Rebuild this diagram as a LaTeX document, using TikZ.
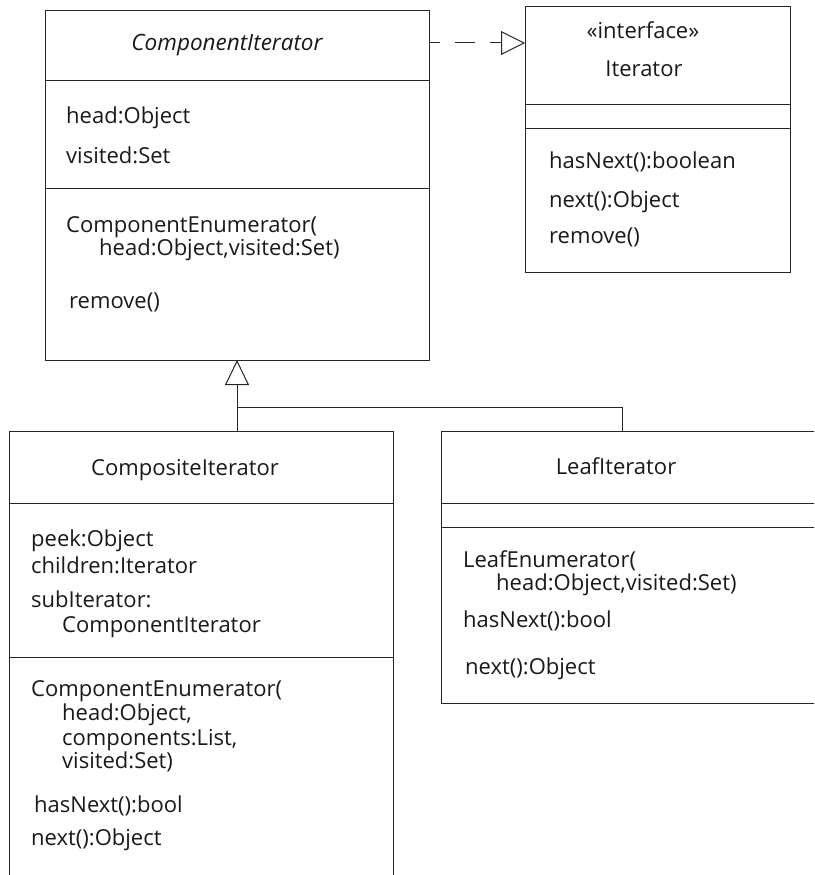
\documentclass[tikz,border=0pt]{standalone}
\usepackage{fontspec}
\setmainfont{Open Sans}
\usetikzlibrary{arrows.meta,calc}

\begin{document}
\begin{tikzpicture}[x=1pt, y=-1pt,
  umlbox/.style={draw=black!85, line width=1pt, inner sep=0pt, outer sep=0pt},
  sep/.style={draw=black!85, line width=1pt},
  cname/.style={anchor=base, inner sep=0pt, text=black!90, font=\fontsize{22}{25}\selectfont},
  member/.style={anchor=base west, inner sep=0pt, text=black!90, font=\fontsize{22}{25}\selectfont},
  realize/.style={draw=black!85, line width=1pt, dash pattern=on 20pt off 15pt, dash phase=9pt,
    -{Triangle[open, length=24pt, width=24pt]}},
  inherit/.style={draw=black!85, line width=1pt, -{Triangle[open, length=25pt, width=24pt]}},
  link/.style={draw=black!85, line width=1pt}
]
  \useasboundingbox (0,0) rectangle (814,875);
  \clip (0,0) rectangle (814,875);

  % boxes
  \node[umlbox, minimum width=384pt, minimum height=349pt] (compit) at (237,185.5) {};
  \node[umlbox, minimum width=265pt, minimum height=265pt] (iter) at (657.5,139.5) {};
  \node[umlbox, minimum width=384pt, minimum height=454pt] (compos) at (201,658) {};
  \node[umlbox, minimum width=393pt, minimum height=272pt] (leaf) at (637.5,567) {};

  % compartments
  \draw[sep] (compit.west |- 0,80) -- (compit.east |- 0,80);
  \draw[sep] (compit.west |- 0,188) -- (compit.east |- 0,188);
  \draw[sep] (iter.west |- 0,104) -- (iter.east |- 0,104);
  \draw[sep] (iter.west |- 0,128) -- (iter.east |- 0,128);
  \draw[sep] (compos.west |- 0,503) -- (compos.east |- 0,503);
  \draw[sep] (compos.west |- 0,657) -- (compos.east |- 0,657);
  \draw[sep] (leaf.west |- 0,503) -- (leaf.east |- 0,503);
  \draw[sep] (leaf.west |- 0,527) -- (leaf.east |- 0,527);

  % ComponentIterator
  \node[cname, font=\fontsize{22.5}{25}\selectfont\itshape] (compitname) at (227,51) {ComponentIterator};
  \node[member] (compithead) at (66,123) {head:Object};
  \node[member] (compitvis) at (66,163) {visited:Set};
  \node[member] (compitctor) at (66,232) {ComponentEnumerator(};
  \node[member] (compitargs) at (99,255) {head:Object,visited:Set)};
  \node[member] (compitrem) at (69,308) {remove()};

  % Iterator
  \node[cname] (iterstereo) at (643,39) {«interface»};
  \node[cname] (itername) at (644,76) {Iterator};
  \node[member] (iterhas) at (549,168) {hasNext():boolean};
  \node[member] (iternext) at (549,207) {next():Object};
  \node[member] (iterrem) at (549,243) {remove()};

  % CompositeIterator
  \node[cname] (composname) at (185,475) {CompositeIterator};
  \node[member] (compospeek) at (31,546) {peek:Object};
  \node[member] (composchild) at (31,573) {children:Iterator};
  \node[member] (compossub) at (31,607) {subIterator:};
  \node[member] (composubtype) at (62,632) {ComponentIterator};
  \node[member] (composctor) at (31,696) {ComponentEnumerator(};
  \node[member] (composarga) at (62,720) {head:Object,};
  \node[member] (composargb) at (62,745) {components:List,};
  \node[member] (composargc) at (62,768) {visited:Set)};
  \node[member] (composhas) at (34,812) {hasNext():bool};
  \node[member] (composnext) at (31,845) {next():Object};

  % LeafIterator
  \node[cname] (leafname) at (616,474) {LeafIterator};
  \node[member] (leafctor) at (463,567) {LeafEnumerator(};
  \node[member] (leafargs) at (496,590) {head:Object,visited:Set)};
  \node[member] (leafhas) at (463,627) {hasNext():bool};
  \node[member] (leafnext) at (465,674) {next():Object};

  % relations
  \draw[realize] ([yshift=-32pt]compit.north east) -- ([yshift=-36pt]iter.north west);
  \draw[inherit] (compit.south |- compos.north) -- (compit.south);
  \draw[link] ($(compit.south)+(0,47)$) -| ([xshift=181pt]leaf.north west);
\end{tikzpicture}
\end{document}
